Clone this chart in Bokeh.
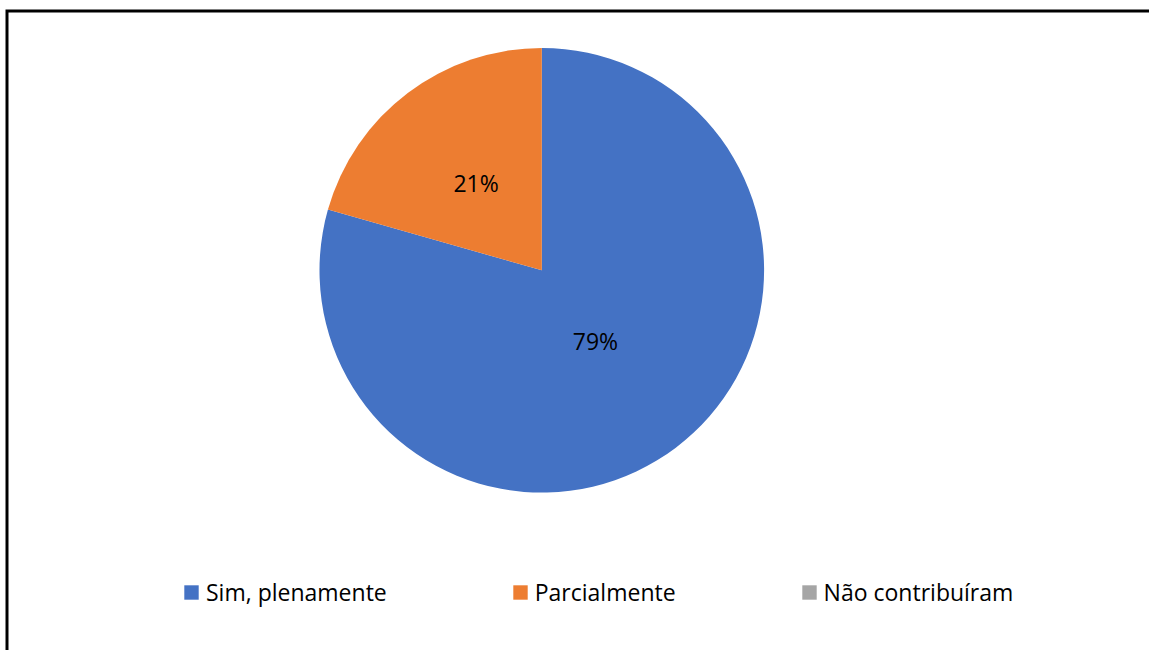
import numpy as np
from bokeh.plotting import figure
from bokeh.models import ColumnDataSource, Range1d, Legend, LegendItem
from bokeh.core.properties import value
from bokeh.embed import file_html
from bokeh.resources import INLINE

# ---- data ----
categories = ["Sim, plenamente", "Parcialmente", "Não contribuíram"]
shares = [79.4, 20.6, 0.0]
colors = ["#4472C4", "#ED7D31", "#A5A5A5"]

# ---- layout ----
W, H = 1149, 650
CX, CY, R = 541.3, H - 269.8, 222.3
label_r = [0.40, 0.49, 0.45]
FONT = "Open Sans"
FS = "23px"

frac = np.array(shares) / sum(shares)
cum = np.concatenate([[0.0], np.cumsum(frac)])
start = np.pi / 2 - 2 * np.pi * cum[:-1]
end = np.pi / 2 - 2 * np.pi * cum[1:]
mid = (start + end) / 2
radius = [R if s > 0 else 0.0 for s in shares]

src = ColumnDataSource(dict(cat=categories, share=shares, color=colors,
                            start=start, end=end, radius=radius))

p = figure(width=W, height=H, x_range=Range1d(0, W), y_range=Range1d(0, H),
           x_axis_type=None, y_axis_type=None, toolbar_location=None,
           output_backend="svg", min_border=0, outline_line_color=None)
p.grid.visible = False
p.background_fill_color = "white"
p.border_fill_color = "white"

wr = p.wedge(x=CX, y=CY, radius="radius", start_angle="start", end_angle="end",
             direction="clock", fill_color="color", line_color=None, source=src)

# data labels
lx, ly, lt = [], [], []
for i, s in enumerate(shares):
    if s > 0:
        lx.append(CX + label_r[i] * R * np.cos(mid[i]))
        ly.append(CY + label_r[i] * R * np.sin(mid[i]))
        lt.append(f"{round(s)}%")
p.text(x=lx, y=ly, text=lt, text_align="center", text_baseline="middle",
       text_font=value(FONT), text_font_size=FS, text_color="#000000")

# chart border (cropped on right / bottom)
p.line(x=[6.5, 6.5, W + 20], y=[-20, H - 10.5, H - 10.5], line_color="black",
       line_width=3, line_join="miter")

items = [LegendItem(label=c, renderers=[wr], index=i) for i, c in enumerate(categories)]
legend = Legend(items=items, orientation="horizontal", location=(182, 42.5),
                spacing=124, glyph_width=18, glyph_height=18, label_standoff=6,
                padding=0, margin=0, border_line_color=None,
                background_fill_alpha=0, label_text_font=FONT,
                label_text_font_size=FS, label_text_color="#000000")
p.add_layout(legend, "center")

open("out.html", "w").write(file_html(p, INLINE))
